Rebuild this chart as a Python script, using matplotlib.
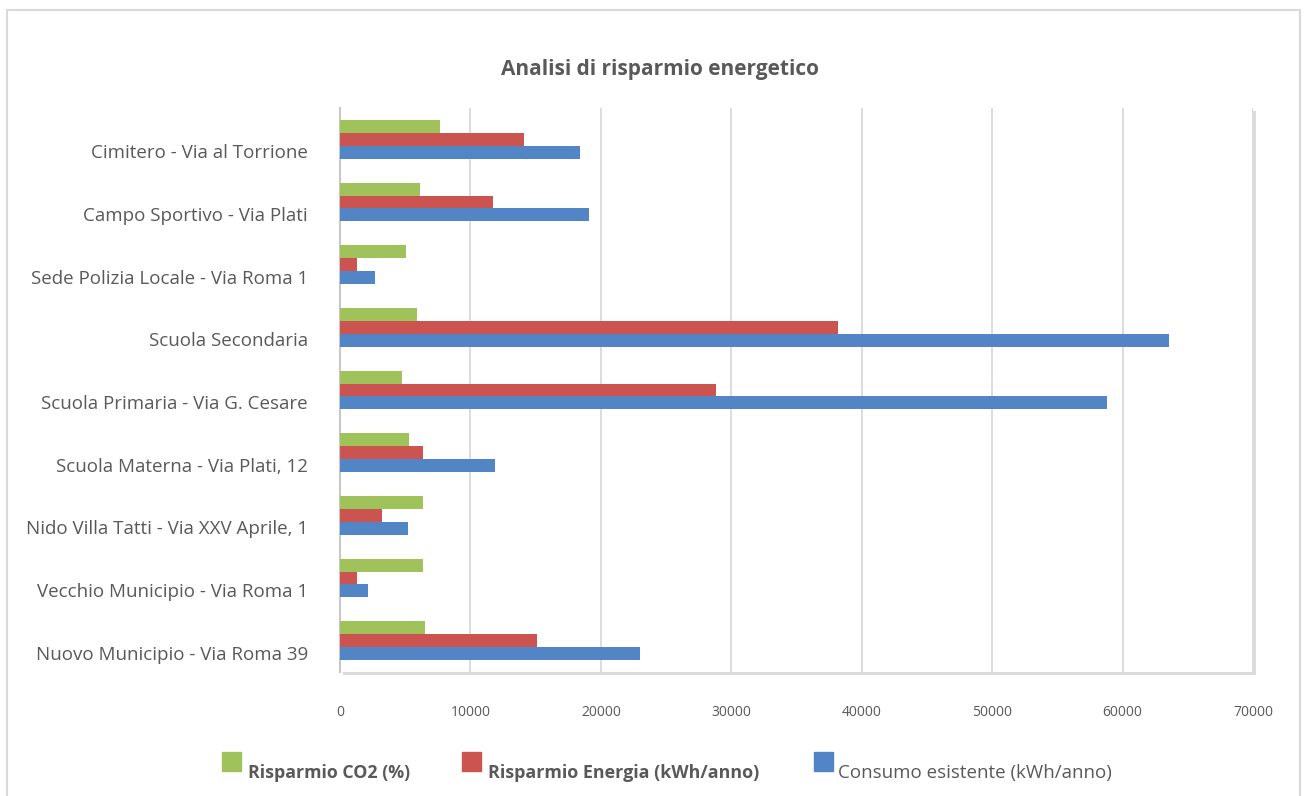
import matplotlib.pyplot as plt
import matplotlib.patheffects as pe
import matplotlib.transforms as mtransforms
from matplotlib.patches import Rectangle
import numpy as np

# Dati: dal basso verso l'alto come nel grafico
edifici = [
    "Nuovo Municipio - Via Roma 39",
    "Vecchio Municipio - Via Roma 1",
    "Nido Villa Tatti - Via XXV Aprile, 1",
    "Scuola Materna - Via Plati, 12",
    "Scuola Primaria - Via G. Cesare",
    "Scuola Secondaria",
    "Sede Polizia Locale - Via Roma 1",
    "Campo Sportivo - Via Plati",
    "Cimitero - Via al Torrione",
]
risparmio_co2 = [6540, 6330, 6330, 5310, 4790, 5900, 5030, 6100, 7640]
risparmio_energia = [15100, 1330, 3250, 6330, 28800, 38170, 1280, 11740, 14100]
consumo_esistente = [23000, 2180, 5180, 11870, 58820, 63590, 2690, 19100, 18380]

etichette_serie = ["Risparmio CO2 (%)", "Risparmio Energia (kWh/anno)", "Consumo esistente (kWh/anno)"]
colori = ["#9fc35a", "#cb5451", "#5185c5"]
grigio = "#595959"

plt.rcParams['font.family'] = ['Open Sans', 'DejaVu Sans']

fig = plt.figure(figsize=(13.04, 7.96), dpi=100)

# cornice esterna
fig.patches.append(Rectangle((7 / 1304, -0.05), 1293 / 1304, 1.05 - 10 / 796,
                             transform=fig.transFigure, fill=False,
                             edgecolor="#d9d9d9", lw=1.5))

ax = fig.add_axes([340 / 1304, 1 - 672 / 796, 913 / 1304, 564 / 796])
ax.patch.set_path_effects([pe.SimplePatchShadow(offset=(2.5, -2.5), shadow_rgbFace="#999999", alpha=0.35),
                           pe.Normal()])

y = np.arange(len(edifici))
h = 0.205
ax.barh(y + h, risparmio_co2, height=h, color=colori[0], zorder=3)
ax.barh(y, risparmio_energia, height=h, color=colori[1], zorder=3)
ax.barh(y - h, consumo_esistente, height=h, color=colori[2], zorder=3)

ax.set_xlim(0, 70000)
ax.set_ylim(-0.5, 8.5)
ax.set_xticks(np.arange(0, 70001, 10000))
ax.xaxis.grid(True, color="#d9d9d9", lw=1.3, zorder=0)
ax.set_yticks(y)
ax.set_yticklabels(edifici)

for s in ["top", "right", "bottom"]:
    ax.spines[s].set_visible(False)
ax.spines["left"].set_color("#c8c8c8")
ax.spines["left"].set_linewidth(1.5)

ax.tick_params(axis="y", length=0, pad=23, labelsize=13.5, labelcolor=grigio)
ax.tick_params(axis="x", length=0, pad=24, labelsize=10, labelcolor=grigio)

# etichette delle categorie un po' più in basso rispetto al centro del gruppo
sposta = mtransforms.ScaledTranslation(0, -12 / 100, fig.dpi_scale_trans)
for lab in ax.get_yticklabels():
    lab.set_transform(lab.get_transform() + sposta)

fig.text(660 / 1304, 1 - 69 / 796, "Analisi di risparmio energetico", ha="center", va="center",
         fontsize=15, fontweight="bold", color=grigio)

# legenda
legenda = [(222, 248, "bold", 12.8), (462, 488, "bold", 12.9), (814, 838, "normal", 13.5)]
for (xq, xt, peso, fs), col, lab in zip(legenda, colori, etichette_serie):
    fig.patches.append(Rectangle((xq / 1304, 1 - 771 / 796), 19 / 1304, 19 / 796,
                                 transform=fig.transFigure, color=col))
    fig.text(xt / 1304, 1 - 773 / 796, lab, ha="left", va="center",
             fontsize=fs, fontweight=peso, color=grigio)

fig.savefig("out.png", dpi=100)
